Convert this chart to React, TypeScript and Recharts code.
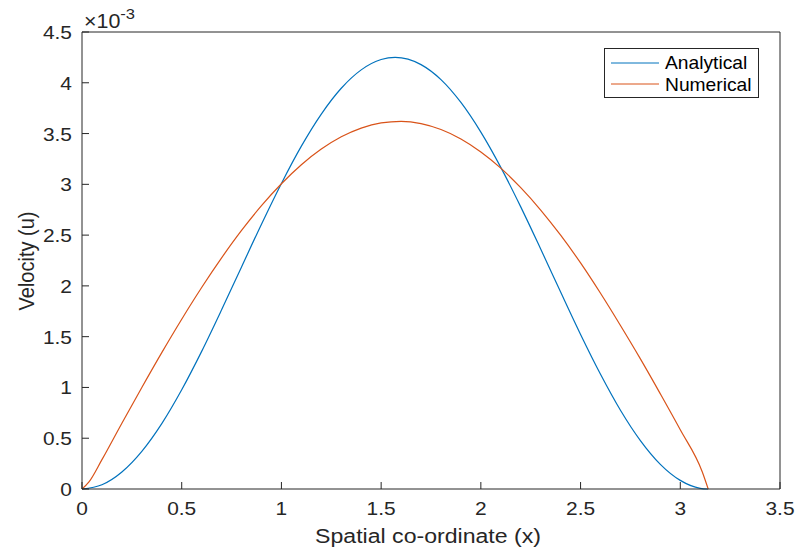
import { LineChart, Line, XAxis, YAxis } from 'recharts';

// values, in units of 10^-3
const analyticalX = [0, 0.1, 0.2, 0.3, 0.4, 0.5, 0.6, 0.7, 0.8, 0.9, 1.0, 1.1, 1.2, 1.3, 1.4, 1.5, 1.57, 1.7, 1.8, 1.9, 2.0, 2.1, 2.2, 2.3, 2.4, 2.5, 2.6, 2.7, 2.8, 2.9, 3.0, 3.1, 3.14];
const analyticalU = [0, 0.042, 0.168, 0.371, 0.644, 0.977, 1.355, 1.764, 2.187, 2.608, 3.009, 3.376, 3.692, 3.946, 4.127, 4.229, 4.25, 4.179, 4.031, 3.806, 3.514, 3.167, 2.778, 2.363, 1.939, 1.522, 1.13, 0.776, 0.477, 0.243, 0.085, 0.007, 0];

const numericalX = [0, 0.035, 0.1, 0.2, 0.3, 0.4, 0.5, 0.6, 0.7, 0.8, 0.9, 1.0, 1.1, 1.2, 1.3, 1.4, 1.5, 1.6, 1.7, 1.8, 1.9, 2.0, 2.1, 2.2, 2.3, 2.4, 2.5, 2.6, 2.7, 2.8, 2.9, 3.0, 3.11, 3.14];
const numericalU = [0, 0.07, 0.289, 0.648, 1.0, 1.343, 1.672, 1.984, 2.276, 2.546, 2.79, 3.006, 3.193, 3.347, 3.468, 3.554, 3.605, 3.62, 3.598, 3.54, 3.447, 3.319, 3.16, 2.967, 2.747, 2.499, 2.226, 1.927, 1.61, 1.281, 0.937, 0.583, 0.17, 0];

const xTicks = [0, 0.5, 1, 1.5, 2, 2.5, 3, 3.5];
const yTicks = [0, 0.5, 1, 1.5, 2, 2.5, 3, 3.5, 4, 4.5];

const analytical = analyticalX.map((x, i) => ({ x, u: analyticalU[i] }));
const numerical = numericalX.map((x, i) => ({ x, u: numericalU[i] }));

const AXIS = '#262626';
const BLUE = '#0072BD';
const ORANGE = '#D95319';
const FONT = '"Liberation Sans", Arial, Helvetica, sans-serif';

// the reference is stretched a little horizontally, so text is too
const T = ({ x, y, size, anchor = 'start', rotate = 0, fill = AXIS, children }: any) => (
  <text
    transform={`translate(${x} ${y}) scale(1.1 1) rotate(${rotate})`}
    textAnchor={anchor}
    fontSize={size}
    fill={fill}
    fontFamily={FONT}
  >
    {children}
  </text>
);

const BottomTick = (props: any) => {
  const { x, y, payload } = props;
  return (
    <g>
      <line x1={x} y1={y} x2={x} y2={y - 7} stroke={AXIS} />
      <T x={x} y={y + 26} size={19} anchor="middle">{payload.value}</T>
    </g>
  );
};

const TopTick = (props: any) => {
  const { x, y } = props;
  return <line x1={x} y1={y} x2={x} y2={y + 7} stroke={AXIS} />;
};

const LeftTick = (props: any) => {
  const { x, y, payload } = props;
  return (
    <g>
      <line x1={x} y1={y} x2={x + 7} y2={y} stroke={AXIS} />
      <T x={x - 10} y={y + 7} size={19} anchor="end">{payload.value}</T>
    </g>
  );
};

const RightTick = (props: any) => {
  const { x, y } = props;
  return <line x1={x} y1={y} x2={x - 7} y2={y} stroke={AXIS} />;
};

const LegendBox = () => (
  <svg width={157} height={52} style={{ position: 'absolute', left: 603, top: 47 }}>
    <rect x={1.5} y={1.5} width={154} height={49} fill="#fff" stroke={AXIS} strokeWidth={1} />
    <line x1={8} y1={16} x2={56} y2={16} stroke={BLUE} />
    <T x={62} y={22} size={17.5} fill="#000">Analytical</T>
    <line x1={8} y1={37} x2={56} y2={37} stroke={ORANGE} />
    <T x={62} y={44} size={17.5} fill="#000">Numerical</T>
  </svg>
);

export default function App() {
  return (
    <div style={{ position: 'absolute', left: 0, top: 0, width: 798, height: 551, background: '#fff' }}>
      <LineChart width={798} height={551} margin={{ top: 31, right: 17, bottom: 0, left: 0 }}>
        <XAxis
          xAxisId="b"
          dataKey="x"
          type="number"
          domain={[0, 3.5]}
          ticks={xTicks}
          height={62}
          tickSize={0}
          tickMargin={0}
          tickLine={false}
          tick={<BottomTick />}
          stroke={AXIS}
          label={() => (
            <T x={428} y={543} size={21} anchor="middle">Spatial co-ordinate (x)</T>
          )}
        />
        <XAxis
          xAxisId="t"
          orientation="top"
          dataKey="x"
          type="number"
          domain={[0, 3.5]}
          ticks={xTicks}
          height={1}
          tickSize={0}
          tickMargin={0}
          tickLine={false}
          tick={<TopTick />}
          stroke={AXIS}
          label={() => (
            <T x={84} y={28} size={19.5}>
              ×10<tspan dy={-9} fontSize={15}>-3</tspan>
            </T>
          )}
        />
        <YAxis
          yAxisId="l"
          type="number"
          domain={[0, 4.5]}
          ticks={yTicks}
          width={82}
          tickSize={0}
          tickMargin={0}
          tickLine={false}
          tick={<LeftTick />}
          stroke={AXIS}
          label={() => (
            <T x={34} y={261} size={20} anchor="middle" rotate={-90}>Velocity (u)</T>
          )}
        />
        <YAxis
          yAxisId="r"
          orientation="right"
          type="number"
          domain={[0, 4.5]}
          ticks={yTicks}
          width={1}
          tickSize={0}
          tickMargin={0}
          tickLine={false}
          tick={<RightTick />}
          stroke={AXIS}
        />
        <Line
          xAxisId="b"
          yAxisId="l"
          type="monotone"
          data={analytical}
          dataKey="u"
          name="Analytical"
          stroke={BLUE}
          strokeWidth={1.2}
          dot={false}
          isAnimationActive={false}
        />
        <Line
          xAxisId="b"
          yAxisId="l"
          type="monotone"
          data={numerical}
          dataKey="u"
          name="Numerical"
          stroke={ORANGE}
          strokeWidth={1.2}
          dot={false}
          isAnimationActive={false}
        />
      </LineChart>
      <LegendBox />
    </div>
  );
}
